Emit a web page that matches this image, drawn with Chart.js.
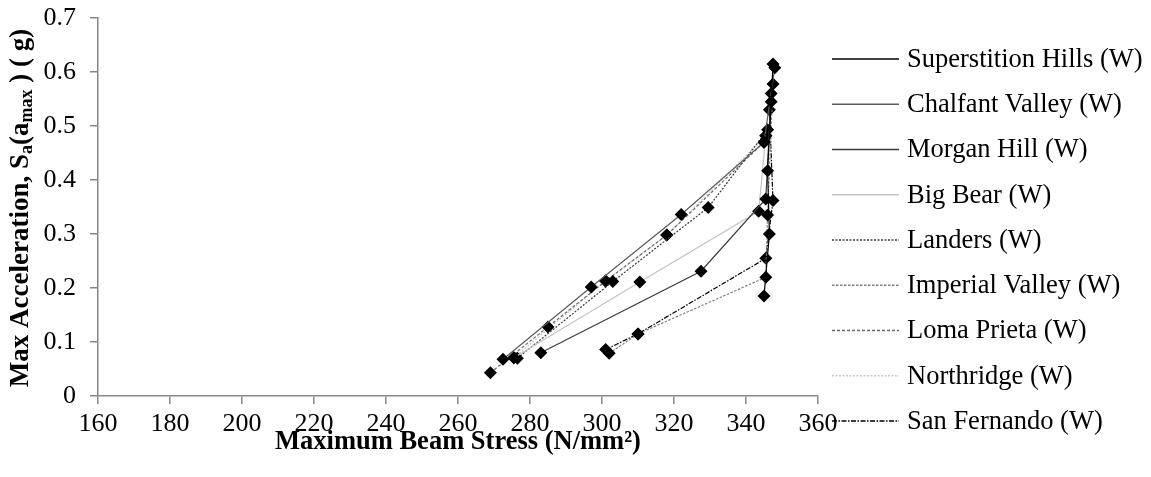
<!DOCTYPE html>
<html><head><meta charset="utf-8">
<script src="https://cdn.jsdelivr.net/npm/chart.js@4.4.1/dist/chart.umd.min.js"></script>
<style>html,body{margin:0;padding:0;background:#fff}#wrap{width:1151px;height:477px;position:relative}</style>
</head><body><div id="wrap"><canvas id="c" width="1151" height="477"></canvas></div>
<script>
// ---- data (stress N/mm2, Sa g) ----
const seriesNames = ["Superstition Hills (W)","Chalfant Valley (W)","Morgan Hill (W)","Big Bear (W)","Landers (W)","Imperial Valley (W)","Loma Prieta (W)","Northridge (W)","San Fernando (W)"];
const superstitionStress = [345.0, 346.5, 346.0, 347.0, 347.5];
const superstitionSa     = [0.185, 0.300, 0.417, 0.545, 0.615];
const chalfantStress = [272.5, 297.0, 322.0, 345.0, 348.0];
const chalfantSa     = [0.068, 0.202, 0.336, 0.470, 0.608];
const morganStress = [283.0, 327.5, 345.5, 347.0];
const morganSa     = [0.080, 0.231, 0.365, 0.560];
const bigBearStress = [275.5, 310.5, 343.5, 345.5];
const bigBearSa     = [0.071, 0.211, 0.342, 0.482];
const landersStress = [276.5, 303.0, 329.5, 346.0];
const landersSa     = [0.070, 0.212, 0.349, 0.493];
const imperialStress = [302.0, 310.0, 345.5, 346.0, 347.5];
const imperialSa     = [0.079, 0.115, 0.220, 0.335, 0.578];
const lomaStress = [269.0, 285.0, 301.0, 318.0, 345.0];
const lomaSa     = [0.043, 0.128, 0.213, 0.298, 0.470];
const northridgeStress = [275.5, 301.0, 318.0, 345.5];
const northridgeSa     = [0.071, 0.213, 0.298, 0.482];
const sanFernandoStress = [301.0, 310.0, 345.5, 347.5, 346.5];
const sanFernandoSa     = [0.086, 0.115, 0.255, 0.362, 0.530];
const xTicks = [160,180,200,220,240,260,280,300,320,340,360];
const yTicks = [0,0.1,0.2,0.3,0.4,0.5,0.6,0.7];

const stressSets = [superstitionStress, chalfantStress, morganStress, bigBearStress, landersStress, imperialStress, lomaStress, northridgeStress, sanFernandoStress];
const saSets = [superstitionSa, chalfantSa, morganSa, bigBearSa, landersSa, imperialSa, lomaSa, northridgeSa, sanFernandoSa];

// ---- styles ----
const lineColors = ['#000000','#5a5a5a','#3c3c3c','#c4c4c4','#3c3c3c','#808080','#6a6a6a','#c8c8c8','#000000'];
const lineDashes = [[],[],[],[],[2,1.5],[2.5,1.5],[3,2],[2,1.5],[5,1.5,1.5,1.5]];
const SERIF = "'Liberation Serif','Times New Roman',serif";

const datasets = seriesNames.map((name,i)=>({
  label: name,
  data: stressSets[i].map((x,j)=>({x:x, y:saSets[i][j]})),
  showLine: true,
  borderColor: lineColors[i],
  borderDash: lineDashes[i],
  borderWidth: 1.2,
  pointStyle: 'rectRot',
  pointRadius: 6.5,
  pointBackgroundColor: '#000',
  pointBorderColor: '#000',
  pointBorderWidth: 0,
  fill: false,
  tension: 0
}));

const extras = {
  id: 'extras',
  afterDraw(chart){
    const ctx = chart.ctx;
    const ca = chart.chartArea;
    ctx.save();
    // legend
    const lx0 = 832, lx1 = 899, tx = 907, ly0 = 59, step = 45.25;
    ctx.font = "26.5px " + SERIF;
    ctx.textAlign = 'left';
    ctx.textBaseline = 'middle';
    chart.data.datasets.forEach((ds,i)=>{
      const y = ly0 + i*step;
      ctx.beginPath();
      ctx.setLineDash(ds.borderDash);
      ctx.strokeStyle = ds.borderColor;
      ctx.lineWidth = 1.3;
      ctx.moveTo(lx0, y); ctx.lineTo(lx1, y);
      ctx.stroke();
      ctx.setLineDash([]);
      ctx.fillStyle = '#000';
      ctx.fillText(ds.label, tx, y + 1);
    });
    // x title
    ctx.font = "bold 26.5px " + SERIF;
    ctx.textAlign = 'center';
    ctx.fillText("Maximum Beam Stress (N/mm²)", (ca.left+ca.right)/2, 442);
    // y title with subscripts
    const segs = [["Max Acceleration, S",0],["a",1],["(a",0],["max",1],[" ) ( g)",0]];
    const mainF = "bold 27px " + SERIF, subF = "bold 18px " + SERIF;
    let total = 0;
    segs.forEach(s=>{ctx.font = s[1]?subF:mainF; total += ctx.measureText(s[0]).width;});
    ctx.translate(21, 208);
    ctx.rotate(-Math.PI/2);
    ctx.textAlign = 'left';
    let x = -total/2;
    segs.forEach(s=>{
      ctx.font = s[1]?subF:mainF;
      ctx.fillText(s[0], x, s[1]?6:0);
      x += ctx.measureText(s[0]).width;
    });
    ctx.restore();
  }
};

new Chart(document.getElementById('c'), {
  type: 'scatter',
  data: { datasets },
  options: {
    responsive: false,
    animation: false,
    devicePixelRatio: 1,
    layout: { padding: { top: 18, right: 333, left: 0, bottom: 0 } },
    plugins: { legend: { display: false }, tooltip: { enabled: false } },
    scales: {
      x: {
        type: 'linear', min: 160, max: 360,
        afterBuildTicks(s){ s.ticks = xTicks.map(v=>({value:v})); },
        afterFit(s){ s.height = 81; s.paddingLeft = 0; s.paddingRight = 0; },
        grid: { drawOnChartArea: false, drawTicks: true, tickLength: 8, color: '#878787', lineWidth: 1.5 },
        border: { color: '#878787', width: 1.5 },
        ticks: { color: '#000', font: { family: SERIF, size: 26 }, padding: 5, maxRotation: 0, autoSkip: false }
      },
      y: {
        type: 'linear', min: 0, max: 0.7,
        afterBuildTicks(s){ s.ticks = yTicks.map(v=>({value:v})); },
        afterFit(s){ s.width = 98; s.paddingTop = 0; s.paddingBottom = 0; },
        grid: { drawOnChartArea: false, drawTicks: true, tickLength: 8, color: '#878787', lineWidth: 1.5 },
        border: { color: '#878787', width: 1.5 },
        ticks: { color: '#000', font: { family: SERIF, size: 26 }, padding: 14, autoSkip: false,
          callback: v => String(+v.toFixed(1)) }
      }
    }
  },
  plugins: [extras]
});
</script></body></html>
